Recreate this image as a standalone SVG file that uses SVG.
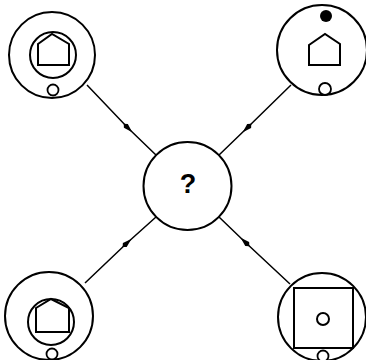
<svg xmlns="http://www.w3.org/2000/svg" width="366" height="360" viewBox="0 0 366 360">
<style>
.o{fill:#fff;stroke:#000;stroke-width:2}
.i{fill:none;stroke:#000;stroke-width:2}
.h{fill:none;stroke:#000;stroke-width:2;stroke-linejoin:miter}
.s{fill:#fff;stroke:#000;stroke-width:1.8}
.c{stroke:#000;stroke-width:1.5;fill:none}
.q{font-family:"Liberation Sans",Arial,sans-serif;font-weight:bold;font-size:27px;text-anchor:middle}
</style>
<defs>
<marker id="ar" viewBox="0 0 12 8" refX="6" refY="4" markerWidth="12" markerHeight="8" markerUnits="userSpaceOnUse" orient="auto">
<path d="M0,4 L3,1.2 L12,4 L3,6.8 Z" fill="#000"/>
</marker>
</defs>
<rect width="366" height="360" fill="#fff"/>
<g id="connectors">
<path class="c" d="M87,85 L128,128 L156,155" marker-mid="url(#ar)"/>
<path class="c" d="M291,85 L247,128 L219,155" marker-mid="url(#ar)"/>
<path class="c" d="M85,283 L127,243 L156,217" marker-mid="url(#ar)"/>
<path class="c" d="M290,284 L245,242 L219,217" marker-mid="url(#ar)"/>
</g>
<g id="n-tl">
<circle class="o" cx="52" cy="55" r="43"/>
<circle class="i" cx="53" cy="55" r="23"/>
<path class="h" d="M38,44 L52,34 L69,44 L69,65 L38,65 Z"/>
<circle class="s" cx="53" cy="90" r="5.5"/>
</g>
<g id="n-tr">
<circle class="o" cx="322" cy="50" r="45"/>
<circle cx="326" cy="16" r="6" fill="#000"/>
<path class="h" d="M309,45 L325,34 L340,44 L340,65 L309,65 Z"/>
<circle class="s" cx="325" cy="89" r="6"/>
</g>
<g id="n-center">
<circle class="o" cx="187.5" cy="186" r="44"/>
<text class="q" x="188" y="193">?</text>
</g>
<g id="n-bl">
<circle class="o" cx="49" cy="316" r="44"/>
<circle class="i" cx="51" cy="322" r="23"/>
<path class="h" d="M36,308 L51,299 L69,308 L69,332 L36,332 Z"/>
<circle class="s" cx="52" cy="354" r="5.5"/>
</g>
<g id="n-br">
<circle class="o" cx="322" cy="317" r="44"/>
<rect class="i" x="294" y="288" width="59" height="60"/>
<circle class="i" cx="323" cy="319" r="6"/>
<circle class="s" cx="323" cy="356" r="5.5"/>
</g>
</svg>
